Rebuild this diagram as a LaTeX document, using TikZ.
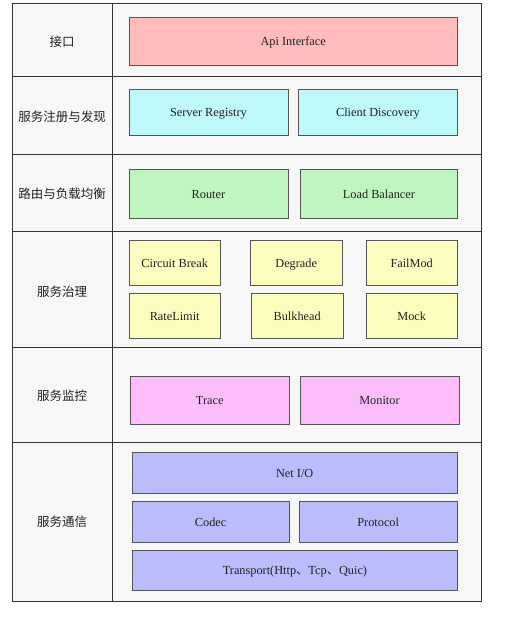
\documentclass[tikz,border=0pt]{standalone}
\usepackage{fontspec}
\setmainfont{Liberation Serif}
\newfontfamily\cjk{Noto Sans CJK SC}
\definecolor{tablebg}{HTML}{F7F7F7}
\definecolor{linec}{HTML}{333333}
\definecolor{boxline}{HTML}{555555}
\definecolor{cpink}{HTML}{FFBCBC}
\definecolor{ccyan}{HTML}{BFF8F8}
\definecolor{cgreen}{HTML}{BFF5BF}
\definecolor{cyellow}{HTML}{FDFCBF}
\definecolor{cmag}{HTML}{FDBDFC}
\definecolor{cpurp}{HTML}{BBBCFC}
\definecolor{txt}{HTML}{222222}
\begin{document}
\begin{tikzpicture}[x=1pt,y=-1pt,
  blk/.style={draw=boxline, line width=0.9pt, anchor=north west, inner sep=0pt,
    font=\fontsize{12.3}{14}\selectfont, text=txt, text height=8.2pt, text depth=0pt},
  lbl/.style={font=\cjk\fontsize{12.5}{14}\selectfont, text=txt, inner sep=0pt},
  grid/.style={draw=linec, line width=1pt}]
\useasboundingbox[fill=white] (0,0) rectangle (518,617);
% table
\fill[tablebg] (12.5,4) rectangle (481,601);
\draw[grid] (12.5,4) rectangle (481,601);
\draw[grid] (112,4) -- (112,601);
\foreach \yy in {77,155,232,347,442} \draw[grid] (12.5,\yy) -- (481,\yy);
% left labels
\node[lbl] (l1) at (62,42) {接口};
\node[lbl] (l2) at (62,117) {服务注册与发现};
\node[lbl] (l3) at (62,194) {路由与负载均衡};
\node[lbl] (l4) at (62,292) {服务治理};
\node[lbl] (l5) at (62,396) {服务监控};
\node[lbl] (l6) at (62,522) {服务通信};
% boxes
\node[blk, fill=cpink, minimum width=328.5pt, minimum height=48pt] (api) at (128.5,17) {Api Interface};
\node[blk, fill=ccyan, minimum width=159pt, minimum height=46pt] (sr) at (128.5,89) {Server Registry};
\node[blk, fill=ccyan, minimum width=159pt, minimum height=46pt] (cd) at (298,89) {Client Discovery};
\node[blk, fill=cgreen, minimum width=159pt, minimum height=49pt] (router) at (128.5,169) {Router};
\node[blk, fill=cgreen, minimum width=157pt, minimum height=49pt] (lb) at (300,169) {Load Balancer};
\node[blk, fill=cyellow, minimum width=91.5pt, minimum height=45pt] (cb) at (128.5,240) {Circuit Break};
\node[blk, fill=cyellow, minimum width=91.5pt, minimum height=45pt] (deg) at (250,240) {Degrade};
\node[blk, fill=cyellow, minimum width=91.5pt, minimum height=45pt] (fm) at (365.5,240) {FailMod};
\node[blk, fill=cyellow, minimum width=91.5pt, minimum height=45pt] (rl) at (128.5,293) {RateLimit};
\node[blk, fill=cyellow, minimum width=91.5pt, minimum height=45pt] (bh) at (251,293) {Bulkhead};
\node[blk, fill=cyellow, minimum width=91.5pt, minimum height=45pt] (mock) at (365.5,293) {Mock};
\node[blk, fill=cmag, minimum width=159.5pt, minimum height=48pt] (trace) at (129.5,376) {Trace};
\node[blk, fill=cmag, minimum width=159pt, minimum height=48pt] (mon) at (299.5,376) {Monitor};
\node[blk, fill=cpurp, minimum width=325.5pt, minimum height=41pt] (netio) at (131.5,452) {Net I/O};
\node[blk, fill=cpurp, minimum width=157.5pt, minimum height=41pt] (codec) at (131.5,501) {Codec};
\node[blk, fill=cpurp, minimum width=158.5pt, minimum height=41pt] (proto) at (298.5,501) {Protocol};
\node[blk, fill=cpurp, minimum width=325pt, minimum height=40pt] (trans) at (132,550) {Transport(Http{\cjk 、}Tcp{\cjk 、}Quic)};
\end{tikzpicture}
\end{document}
